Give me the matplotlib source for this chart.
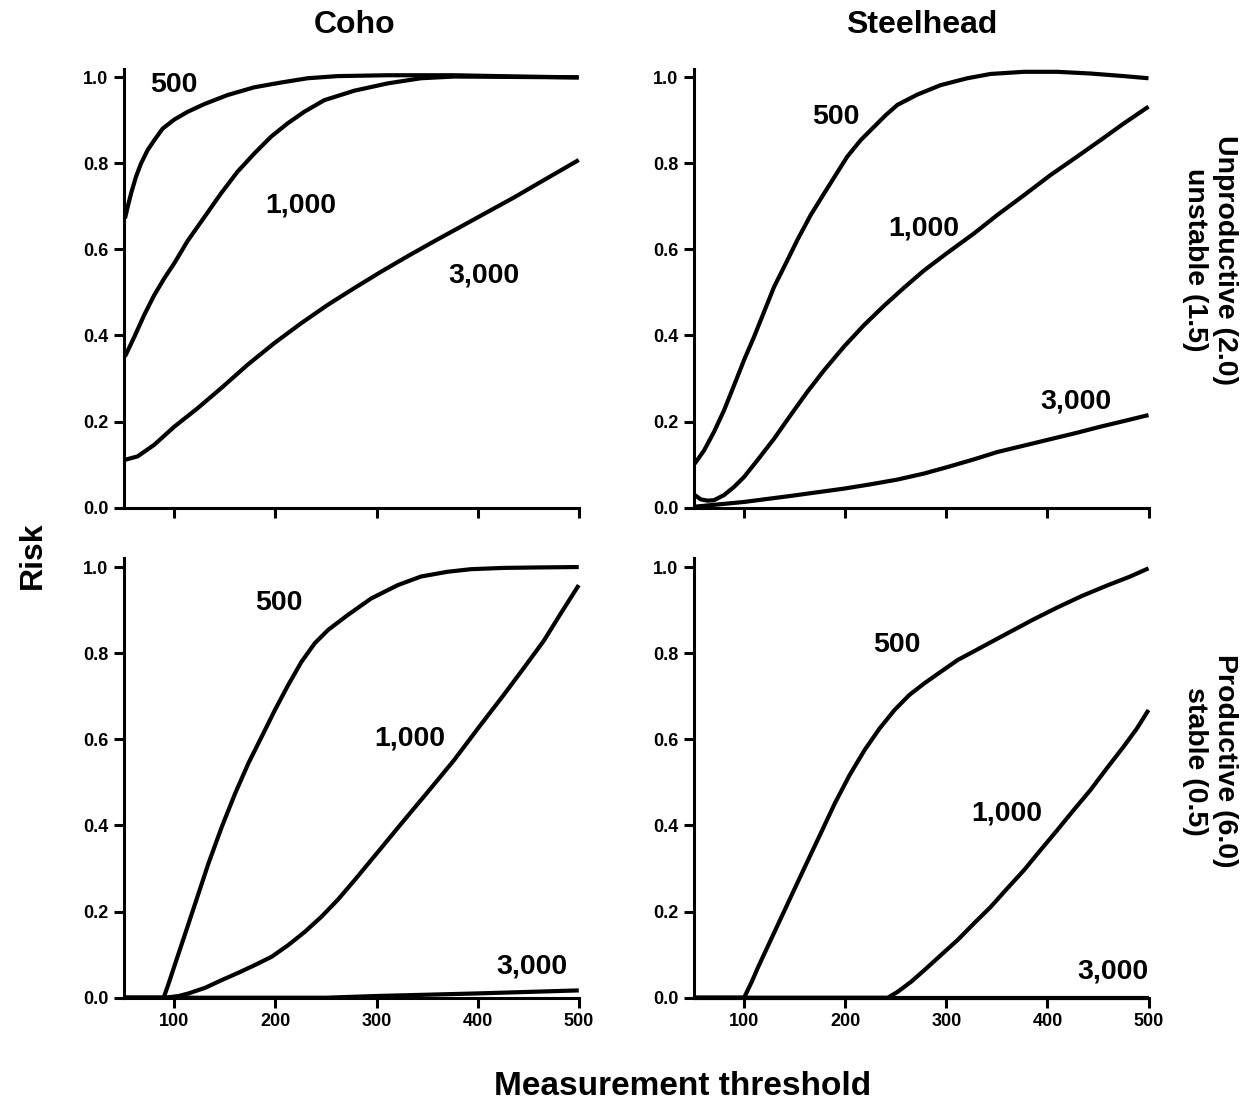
import matplotlib
matplotlib.use("Agg")
import matplotlib.pyplot as plt

plt.rcParams["font.family"] = ["Liberation Sans", "DejaVu Sans"]
plt.rcParams["font.weight"] = "bold"

# Coho, unproductive / unstable
coho_top_500_x = [51.2, 53.9, 57.2, 62.1, 67.1, 73.6, 80.2, 88.5, 100, 113.2, 129.7, 152.7, 179.1, 205.4,
                  231.8, 261.4, 310.9, 376.8, 442.7, 500]
coho_top_500_y = [0.672, 0.699, 0.730, 0.769, 0.800, 0.831, 0.854, 0.881, 0.902, 0.920, 0.938, 0.959, 0.977,
                  0.988, 0.998, 1.003, 1.005, 1.005, 1.002, 1.0]
coho_top_1000_x = [51.2, 60.5, 70.3, 80.2, 90.1, 100, 113.2, 129.7, 146.1, 162.6, 179.1, 195.6, 212.0, 228.5,
                   248.3, 277.9, 310.9, 343.8, 376.8, 500]
coho_top_1000_y = [0.351, 0.397, 0.448, 0.494, 0.533, 0.568, 0.620, 0.675, 0.730, 0.781, 0.823, 0.862, 0.893,
                   0.920, 0.947, 0.969, 0.986, 0.998, 1.002, 1.0]
coho_top_3000_x = [51.2, 63.8, 80.2, 100, 123.1, 146.1, 172.5, 198.8, 225.2, 251.6, 277.9, 304.3, 330.6, 357,
                   383.4, 409.7, 436.1, 462.4, 500]
coho_top_3000_y = [0.111, 0.119, 0.146, 0.188, 0.231, 0.277, 0.332, 0.382, 0.428, 0.471, 0.510, 0.548, 0.584,
                   0.619, 0.653, 0.687, 0.721, 0.757, 0.808]

# Steelhead, unproductive / unstable
steel_top_500_x = [51.2, 60.5, 70.3, 80.2, 90.1, 100, 109.9, 119.8, 129.7, 141.2, 152.7, 165.9, 179.1, 190.6,
                   202.1, 215.3, 228.5, 240.0, 251.6, 271.3, 294.4, 320.8, 343.8, 376.8, 409.7, 442.7, 475.6, 500]
steel_top_500_y = [0.102, 0.133, 0.176, 0.226, 0.284, 0.343, 0.397, 0.455, 0.513, 0.567, 0.622, 0.680, 0.730,
                   0.773, 0.816, 0.854, 0.885, 0.912, 0.936, 0.960, 0.982, 0.998, 1.008, 1.013, 1.013, 1.009,
                   1.003, 0.998]
steel_top_1000_x = [51.2, 57.2, 63.8, 70.3, 80.2, 90.1, 100, 113.2, 129.7, 146.1, 162.6, 179.1, 198.8, 218.6,
                    238.4, 258.2, 277.9, 301, 327.3, 350.4, 376.8, 403.1, 429.5, 452.5, 475.6, 500]
steel_top_1000_y = [0.029, 0.019, 0.016, 0.017, 0.029, 0.048, 0.071, 0.110, 0.160, 0.215, 0.269, 0.319, 0.374,
                    0.424, 0.469, 0.511, 0.551, 0.592, 0.637, 0.680, 0.726, 0.773, 0.816, 0.854, 0.893, 0.932]
steel_top_3000_x = [51.2, 100, 146.1, 198.8, 225.2, 251.6, 277.9, 301, 327.3, 350.4, 376.8, 403.1, 429.5,
                    452.5, 475.6, 500]
steel_top_3000_y = [0.002, 0.013, 0.027, 0.044, 0.054, 0.065, 0.079, 0.094, 0.112, 0.129, 0.144, 0.159, 0.174,
                    0.188, 0.201, 0.215]

# Coho, productive / stable
coho_bot_500_x = [50, 89.5, 94.4, 101, 110.8, 120.7, 133.8, 147, 160.1, 173.2, 186.4, 199.5, 212.6, 225.8, 238.9,
                  252.1, 271.8, 294.7, 321, 344, 370.3, 393.3, 426.1, 458.9, 500]
coho_bot_500_y = [0.0, 0.0, 0.033, 0.080, 0.149, 0.219, 0.312, 0.397, 0.474, 0.544, 0.606, 0.668, 0.726, 0.780,
                  0.823, 0.854, 0.889, 0.927, 0.958, 0.978, 0.989, 0.995, 0.998, 0.999, 1.0]
coho_bot_1000_x = [50, 91.1, 104.3, 114.1, 130.5, 147, 163.4, 179.8, 196.2, 212.6, 229.1, 245.5, 261.9, 278.3,
                   303, 327.6, 352.2, 376.8, 401.5, 426.1, 445.8, 465.5, 481.9, 500]
coho_bot_1000_y = [0.0, 0.0, 0.004, 0.010, 0.023, 0.041, 0.058, 0.076, 0.095, 0.122, 0.153, 0.188, 0.228, 0.273,
                   0.343, 0.413, 0.482, 0.552, 0.629, 0.704, 0.766, 0.829, 0.891, 0.958]
coho_bot_3000_x = [50, 250, 300, 400, 500]
coho_bot_3000_y = [0.0, 0.0, 0.004, 0.010, 0.017]

# Steelhead, productive / stable
steel_bot_500_x = [50, 100, 107.6, 114.1, 125.6, 137.1, 150.2, 163.4, 176.5, 189.7, 204.4, 219.2, 234, 248.8,
                   263.5, 278.3, 294.7, 311.2, 335.8, 360.4, 385.1, 409.7, 434.3, 458.9, 481.9, 500]
steel_bot_500_y = [0.0, 0.0, 0.037, 0.072, 0.130, 0.188, 0.254, 0.320, 0.385, 0.451, 0.517, 0.575, 0.625, 0.668,
                   0.703, 0.730, 0.757, 0.784, 0.815, 0.846, 0.877, 0.906, 0.933, 0.957, 0.978, 0.997]
steel_bot_1000_x = [50, 242.2, 252.1, 265.2, 278.3, 294.7, 311.2, 327.6, 344, 360.4, 376.8, 393.3, 409.7, 426.1,
                    442.5, 458.9, 475.4, 488.5, 500]
steel_bot_1000_y = [0.0, 0.0, 0.014, 0.037, 0.064, 0.099, 0.134, 0.173, 0.211, 0.254, 0.296, 0.343, 0.389, 0.436,
                    0.482, 0.533, 0.583, 0.625, 0.668]
steel_bot_3000_x = [50, 500]
steel_bot_3000_y = [0.0, 0.0]

curve_names = ["500", "1,000", "3,000"]
# label anchor for each curve (data coords), per panel
label_pos = {
    "coho_top": [(100, 0.982), (225, 0.703), (406, 0.54)],
    "steel_top": [(191, 0.909), (278, 0.649), (428, 0.246)],
    "coho_bot": [(203, 0.916), (333, 0.602), (454, 0.073)],
    "steel_bot": [(251, 0.819), (360, 0.428), (465, 0.06)],
}

panels = {
    "coho_top": [(coho_top_500_x, coho_top_500_y), (coho_top_1000_x, coho_top_1000_y), (coho_top_3000_x, coho_top_3000_y)],
    "steel_top": [(steel_top_500_x, steel_top_500_y), (steel_top_1000_x, steel_top_1000_y), (steel_top_3000_x, steel_top_3000_y)],
    "coho_bot": [(coho_bot_500_x, coho_bot_500_y), (coho_bot_1000_x, coho_bot_1000_y), (coho_bot_3000_x, coho_bot_3000_y)],
    "steel_bot": [(steel_bot_500_x, steel_bot_500_y), (steel_bot_1000_x, steel_bot_1000_y), (steel_bot_3000_x, steel_bot_3000_y)],
}

x_ticks = [100, 200, 300, 400, 500]
y_ticks = [0.0, 0.2, 0.4, 0.6, 0.8, 1.0]

fig = plt.figure(figsize=(12.5, 11.06), dpi=100)

rects = {
    "coho_top": [0.0990, 0.5411, 0.3640, 0.3967],
    "steel_top": [0.5548, 0.5411, 0.3640, 0.3967],
    "coho_bot": [0.0990, 0.0979, 0.3640, 0.3972],
    "steel_bot": [0.5548, 0.0979, 0.3640, 0.3972],
}

for key, rect in rects.items():
    ax = fig.add_axes(rect)
    for (xs, ys), name, pos in zip(panels[key], curve_names, label_pos[key]):
        ax.plot(xs, ys, color="black", lw=3.0, solid_capstyle="butt", solid_joinstyle="round",
                clip_on=False, zorder=3)
        ax.text(pos[0], pos[1], name, fontsize=20.5, fontweight="bold", ha="center", va="center")
    ax.set_xlim(50, 500)
    ax.set_ylim(0, 1.02)
    ax.set_xticks(x_ticks)
    ax.set_yticks(y_ticks)
    ax.set_yticklabels([f"{v:.1f}" for v in y_ticks])
    if key.endswith("top"):
        ax.set_xticklabels([])
    for s in ["top", "right"]:
        ax.spines[s].set_visible(False)
    for s in ["left", "bottom"]:
        ax.spines[s].set_linewidth(2.2)
    ax.tick_params(direction="out", length=7, width=2.2, labelsize=13, pad=4)
    for lab in ax.get_xticklabels() + ax.get_yticklabels():
        lab.set_fontweight("bold")

fig.text(0.284, 0.977, "Coho", fontsize=23, fontweight="bold", ha="center", va="center")
fig.text(0.737, 0.977, "Steelhead", fontsize=23, fontweight="bold", ha="center", va="center")
fig.text(0.026, 0.498, "Risk", fontsize=23, fontweight="bold", ha="center", va="center", rotation=90)
fig.text(0.546, 0.018, "Measurement threshold", fontsize=24, fontweight="bold", ha="center", va="center")
fig.text(0.968, 0.765, "Unproductive (2.0)\nunstable (1.5)", fontsize=20.5, fontweight="bold",
         ha="center", va="center", rotation=-90, multialignment="center", linespacing=1.15)
fig.text(0.968, 0.312, "Productive (6.0)\nstable (0.5)", fontsize=20.5, fontweight="bold",
         ha="center", va="center", rotation=-90, multialignment="center", linespacing=1.15)

fig.savefig("out.png", dpi=100)
